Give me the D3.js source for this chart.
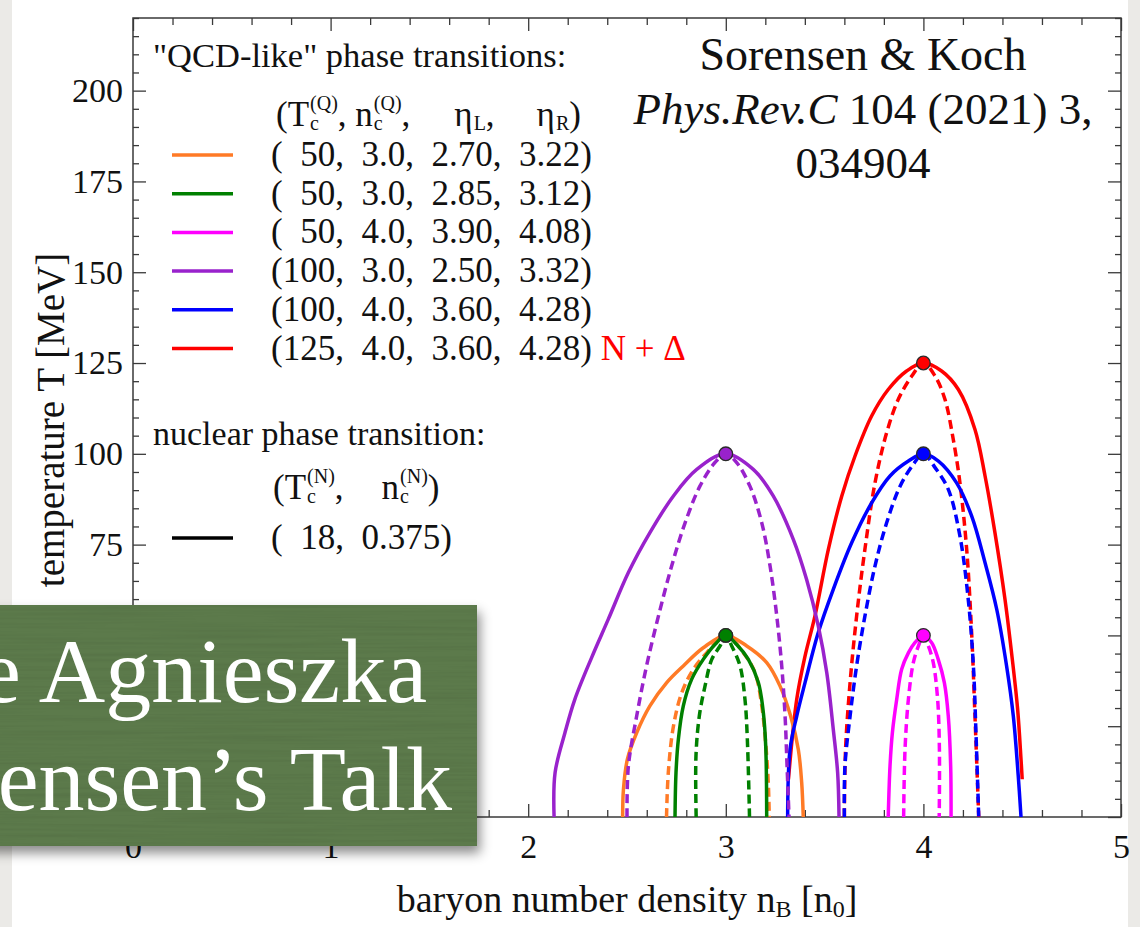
<!DOCTYPE html>
<html>
<head>
<meta charset="utf-8">
<script src="https://cdn.jsdelivr.net/npm/d3@7"></script>
<style>
  body { margin: 0; background: #fff; }
  svg { display: block; }
  text { font-family: "Liberation Serif", "Times New Roman", serif; }
</style>
</head>
<body>
<svg id="chart" width="1140" height="927"></svg>
<script>
// ---------------- data ----------------
// "QCD-like" transitions: critical point and T=0 spinodal points
const seriesTc   = [50, 50, 50, 100, 100, 125];
const seriesNc   = [3.0, 3.0, 4.0, 3.0, 4.0, 4.0];
const seriesEtaL = [2.70, 2.85, 3.90, 2.50, 3.60, 3.60];
const seriesEtaR = [3.22, 3.12, 4.08, 3.32, 4.28, 4.28];
const seriesNote = ["", "", "", "", "", "N + \u0394"];

// nuclear transition
const nuclearTc = 18;
const nuclearNc = 0.375;

// coexistence lines (solid), [n_B, T]; left branch rises to the critical point, right branch falls from it
const orangeCoexL = [[2.478,0],[2.482,7.6],[2.502,15.9],[2.549,23.2],[2.616,30.6],[2.701,37.0],[2.785,41.6],[2.886,46.6]];
const orangeCoexR = [[3.106,47.1],[3.207,42.5],[3.274,36.1],[3.328,27.8],[3.367,18.6],[3.384,9.5],[3.392,0]];
const greenCoexL  = [[2.743,0],[2.748,12.2],[2.760,21.4],[2.785,30.6],[2.827,37.9],[2.886,43.4],[2.945,47.5]];
const greenCoexR  = [[3.055,47.5],[3.114,43.4],[3.165,37.0],[3.190,28.7],[3.202,19.5],[3.207,0]];
const magentaCoexL = [[3.822,0],[3.831,14.0],[3.843,23.2],[3.865,32.4],[3.890,40.7],[3.924,45.2],[3.957,48.0]];
const magentaCoexR = [[4.042,48.0],[4.075,43.4],[4.106,37.0],[4.126,27.8],[4.138,14.0],[4.140,0]];
const purpleCoexL = [[2.131,0],[2.136,12.2],[2.186,23.2],[2.236,32.4],[2.321,43.9],[2.405,54.4],[2.507,67.3],[2.616,78.3],[2.735,88.4],[2.853,95.7]];
const purpleCoexR = [[3.139,95.7],[3.240,88.4],[3.342,76.4],[3.409,65.4],[3.468,52.6],[3.511,39.7],[3.544,24.1],[3.566,12.2],[3.573,0]];
const blueCoexL = [[3.313,0],[3.325,18.6],[3.359,27.8],[3.401,37.0],[3.468,50.8],[3.544,62.7],[3.637,75.5],[3.738,86.5],[3.831,93.9],[3.924,98.0]];
const blueCoexR = [[4.076,98.0],[4.168,92.0],[4.244,82.9],[4.312,70.0],[4.371,57.2],[4.421,41.6],[4.455,27.8],[4.480,11.3],[4.494,0]];
const redCoexL = [[3.317,10.4],[3.359,32.4],[3.401,44.3],[3.451,55.3],[3.519,73.7],[3.587,88.4],[3.654,99.4],[3.738,110.4],[3.822,117.7],[3.915,122.8]];
const redCoexR = [[4.092,122.8],[4.177,117.7],[4.261,106.7],[4.312,93.9],[4.362,78.3],[4.413,59.9],[4.450,43.4],[4.477,29.6],[4.494,15.9],[4.500,10.4]];

// spinodal lines (dashed), interior points; ends are (etaL,0), (nc,Tc), (etaR,0)
const orangeSpinL = [[2.709,12.2],[2.735,25.0],[2.777,34.2],[2.836,40.7],[2.903,45.2]];
const orangeSpinR = [[3.089,45.2],[3.148,39.7],[3.182,30.6],[3.203,19.5],[3.215,9.5]];
const greenSpinL  = [[2.849,16.8],[2.866,27.8],[2.895,36.1],[2.929,43.4],[2.971,47.1]];
const greenSpinR  = [[3.030,47.1],[3.072,41.6],[3.097,32.4],[3.109,21.4]];
const magentaSpinL = [[3.907,18.6],[3.924,32.4],[3.949,42.5],[3.975,47.1]];
const magentaSpinR = [[4.025,47.1],[4.050,42.5],[4.072,32.4],[4.081,18.6]];
const purpleSpinL = [[2.507,14.0],[2.549,27.8],[2.599,41.6],[2.659,55.3],[2.726,69.1],[2.794,81.0],[2.869,91.1],[2.945,97.6]];
const purpleSpinR = [[3.055,97.6],[3.122,91.1],[3.182,81.0],[3.224,69.1],[3.258,55.3],[3.283,41.6],[3.300,27.8],[3.310,14.0]];
const blueSpinL = [[3.603,14.0],[3.629,27.8],[3.662,41.6],[3.704,55.3],[3.755,69.1],[3.814,81.0],[3.882,91.1],[3.949,97.1]];
const blueSpinR = [[4.059,96.2],[4.126,90.2],[4.185,77.3],[4.227,59.9],[4.253,41.6],[4.266,23.2]];
const redSpinL = [[3.606,18.6],[3.629,37.0],[3.662,55.3],[3.704,73.7],[3.755,92.0],[3.814,105.8],[3.873,115.0],[3.941,121.4]];
const redSpinR = [[4.059,121.4],[4.109,115.0],[4.151,104.0],[4.185,92.0],[4.219,73.7],[4.244,50.8],[4.261,27.8]];

const coexLeft  = [orangeCoexL, greenCoexL, magentaCoexL, purpleCoexL, blueCoexL, redCoexL];
const coexRight = [orangeCoexR, greenCoexR, magentaCoexR, purpleCoexR, blueCoexR, redCoexR];
const spinLeft  = [orangeSpinL, greenSpinL, magentaSpinL, purpleSpinL, blueSpinL, redSpinL];
const spinRight = [orangeSpinR, greenSpinR, magentaSpinR, purpleSpinR, blueSpinR, redSpinR];

// axis ticks
const xMajorTicks = [0, 1, 2, 3, 4, 5];
const yMajorTicks = [0, 25, 50, 75, 100, 125, 150, 175, 200];
const yLabelledTicks = [75, 100, 125, 150, 175, 200];   // lower labels sit behind the talk banner

// ---------------- styles ----------------
const palette = ["#ff7a26", "#008000", "#ff00ff", "#9922cc", "#0000ff", "#ff0000"];
const drawOrder = [5, 0, 4, 3, 1, 2];
const serif = '"Liberation Serif", "Times New Roman", serif';

// ---------------- drawing ----------------
const svg = d3.select("#chart");
const W = 1140, H = 927;

const defs = svg.append("defs");
const shadow = defs.append("filter").attr("id", "shadow")
  .attr("x", "-10%").attr("y", "-10%").attr("width", "130%").attr("height", "140%");
shadow.append("feDropShadow").attr("dx", 3).attr("dy", 7).attr("stdDeviation", 6)
  .attr("flood-color", "#000").attr("flood-opacity", 0.45);

// faint paper grain for the banner
const grain = defs.append("filter").attr("id", "grain").attr("x", 0).attr("y", 0).attr("width", "100%").attr("height", "100%");
grain.append("feTurbulence").attr("type", "fractalNoise").attr("baseFrequency", "0.006 0.35")
  .attr("numOctaves", 2).attr("seed", 4).attr("result", "noise");
grain.append("feColorMatrix").attr("in", "noise").attr("type", "matrix")
  .attr("values", "0 0 0 0 0  0 0 0 0 0  0 0 0 0 0  0 0 0 -0.9 0.55");

// slide background
svg.append("rect").attr("width", W).attr("height", H).attr("fill", "#ebeae7");
svg.append("rect").attr("x", 12).attr("width", 1116).attr("height", H).attr("fill", "#ffffff");

const x = d3.scaleLinear().domain([0, 5]).range([133, 1121]);
const y = d3.scaleLinear().domain([0, 220]).range([817, 18]);

const axisColor = "#3a3a3a";
const xMinorTicks = d3.range(0, 5.0001, 0.2).filter(v => Math.abs(v - Math.round(v)) > 1e-6);
const yMinorTicks = d3.range(0, 220.001, 5).filter(v => v % 25 !== 0);

function styleAxis(sel) {
  sel.select(".domain").remove();
  sel.selectAll(".tick line").attr("stroke", axisColor).attr("stroke-width", 1.3);
  sel.selectAll(".tick text").attr("fill", "#111").style("font-family", serif).style("font-size", "34px");
}

const axes = svg.append("g");
// bottom
axes.append("g").attr("transform", `translate(0,${y(0)})`)
  .call(d3.axisBottom(x).tickValues(xMinorTicks).tickSize(-7).tickFormat("")).call(styleAxis);
axes.append("g").attr("transform", `translate(0,${y(0)})`)
  .call(d3.axisBottom(x).tickValues(xMajorTicks).tickSize(-13).tickPadding(17).tickFormat(d3.format("d"))).call(styleAxis);
// top
axes.append("g").attr("transform", `translate(0,${y(220)})`)
  .call(d3.axisTop(x).tickValues(xMinorTicks).tickSize(-7).tickFormat("")).call(styleAxis);
axes.append("g").attr("transform", `translate(0,${y(220)})`)
  .call(d3.axisTop(x).tickValues(xMajorTicks).tickSize(-13).tickFormat("")).call(styleAxis);
// left
axes.append("g").attr("transform", `translate(${x(0)},0)`)
  .call(d3.axisLeft(y).tickValues(yMinorTicks).tickSize(-6).tickFormat("")).call(styleAxis);
axes.append("g").attr("transform", `translate(${x(0)},0)`)
  .call(d3.axisLeft(y).tickValues(yMajorTicks).tickSize(-13).tickFormat("")).call(styleAxis);
axes.append("g").attr("transform", `translate(${x(0)},0)`)
  .call(d3.axisLeft(y).tickValues(yLabelledTicks).tickSize(0).tickPadding(10).tickFormat(d3.format("d"))).call(styleAxis);
// right
axes.append("g").attr("transform", `translate(${x(5)},0)`)
  .call(d3.axisRight(y).tickValues(yMinorTicks).tickSize(-6).tickFormat("")).call(styleAxis);
axes.append("g").attr("transform", `translate(${x(5)},0)`)
  .call(d3.axisRight(y).tickValues(yMajorTicks).tickSize(-13).tickFormat("")).call(styleAxis);

// frame
svg.append("rect")
  .attr("x", x(0)).attr("y", y(220)).attr("width", x(5) - x(0)).attr("height", y(0) - y(220))
  .attr("fill", "none").attr("stroke", axisColor).attr("stroke-width", 1.5);

// axis titles
const xt = svg.append("text").attr("x", 627).attr("y", 912).attr("text-anchor", "middle")
  .style("font-size", "38px").attr("fill", "#111");
xt.append("tspan").text("baryon number density n");
xt.append("tspan").attr("dy", 5).style("font-size", "24px").text("B");
xt.append("tspan").attr("dy", -5).text(" [n");
xt.append("tspan").attr("dy", 5).style("font-size", "24px").text("0");
xt.append("tspan").attr("dy", -5).text("]");

svg.append("text").attr("transform", "translate(64,420) rotate(-90)")
  .attr("text-anchor", "middle").style("font-size", "39px").attr("fill", "#111")
  .text("temperature T [MeV]");

// curves
const line = d3.line().x(d => x(d[0])).y(d => y(d[1])).curve(d3.curveCatmullRom.alpha(0.5));
const plot = svg.append("g");

drawOrder.forEach(i => {
  const top = [seriesNc[i], seriesTc[i]];
  const spin = [[seriesEtaL[i], 0], ...spinLeft[i], top, ...spinRight[i], [seriesEtaR[i], 0]];
  const coex = [...coexLeft[i], top, ...coexRight[i]];
  plot.append("path").attr("d", line(spin)).attr("fill", "none")
    .attr("stroke", palette[i]).attr("stroke-width", 3.5).attr("stroke-dasharray", "9,5");
  plot.append("path").attr("d", line(coex)).attr("fill", "none")
    .attr("stroke", palette[i]).attr("stroke-width", 3.5).attr("stroke-linejoin", "round");
});

// critical points
plot.append("circle").attr("cx", x(nuclearNc)).attr("cy", y(nuclearTc)).attr("r", 6.8)
  .attr("fill", "#000").attr("stroke", "#222").attr("stroke-width", 1.2);
drawOrder.forEach(i => {
  plot.append("circle").attr("cx", x(seriesNc[i])).attr("cy", y(seriesTc[i])).attr("r", 6.8)
    .attr("fill", palette[i]).attr("stroke", "#2a2a2a").attr("stroke-width", 1.3);
});

// ---------------- legend ----------------
const legend = svg.append("g").attr("fill", "#111");
const fs = 35, fsSmall = 20;

function richText(g, x0, y0, parts) {
  // parts: {t}, {sup, sub}, {sub}, {gap}
  let cx = x0;
  parts.forEach(p => {
    if (p.gap !== undefined) { cx += p.gap; return; }
    if (p.t !== undefined) {
      const t = g.append("text").attr("x", cx).attr("y", y0).style("font-size", fs + "px")
        .style("white-space", "pre").text(p.t);
      cx += t.node().getComputedTextLength();
      return;
    }
    let w = 0;
    if (p.sup !== undefined) {
      const s = g.append("text").attr("x", cx + 1).attr("y", y0 - 16).style("font-size", fsSmall + "px").text(p.sup);
      w = Math.max(w, s.node().getComputedTextLength() + 1);
    }
    if (p.sub !== undefined) {
      const s = g.append("text").attr("x", cx + 1).attr("y", y0 + 4).style("font-size", fsSmall + "px").text(p.sub);
      w = Math.max(w, s.node().getComputedTextLength() + 1);
    }
    cx += w;
  });
  return cx;
}

legend.append("text").attr("x", 153).attr("y", 67).style("font-size", "34.5px")
  .text("\"QCD-like\" phase transitions:");

richText(legend, 276, 126, [
  {t: "(T"}, {sup: "(Q)", sub: "c"}, {t: ", n"}, {sup: "(Q)", sub: "c"}, {t: ","},
  {gap: 44}, {t: "\u03B7"}, {sub: "L"}, {t: ","},
  {gap: 42}, {t: "\u03B7"}, {sub: "R"}, {t: ")"}
]);

const rowY0 = 155, rowStep = 38.7;
seriesTc.forEach((tc, i) => {
  const ly = rowY0 + i * rowStep;
  legend.append("line").attr("x1", 172).attr("x2", 233).attr("y1", ly).attr("y2", ly)
    .attr("stroke", palette[i]).attr("stroke-width", 3.5);
  const label = `(${tc < 100 ? "  " + tc : tc},  ${seriesNc[i].toFixed(1)},  ${seriesEtaL[i].toFixed(2)},  ${seriesEtaR[i].toFixed(2)})`;
  const t = legend.append("text").attr("x", 271).attr("y", ly + 11).style("font-size", fs + "px")
    .style("white-space", "pre").text(label);
  if (seriesNote[i]) {
    const w = t.node().getComputedTextLength();
    legend.append("text").attr("x", 271 + w + 9).attr("y", ly + 11).style("font-size", fs + "px")
      .attr("fill", palette[i]).text(seriesNote[i]);
  }
});

legend.append("text").attr("x", 153).attr("y", 445).style("font-size", "34px")
  .text("nuclear phase transition:");

richText(legend, 273, 499, [
  {t: "(T"}, {sup: "(N)", sub: "c"}, {t: ","}, {gap: 38}, {t: "n"}, {sup: "(N)", sub: "c"}, {t: ")"}
]);

legend.append("line").attr("x1", 172).attr("x2", 233).attr("y1", 538).attr("y2", 538)
  .attr("stroke", "#000").attr("stroke-width", 3.5);
legend.append("text").attr("x", 271).attr("y", 549).style("font-size", fs + "px")
  .style("white-space", "pre").text(`(  ${nuclearTc},  ${nuclearNc})`);

// reference note
const ref = svg.append("g").attr("fill", "#111").attr("text-anchor", "middle");
ref.append("text").attr("x", 863).attr("y", 70).style("font-size", "46px").text("Sorensen & Koch");
const r2 = ref.append("text").attr("x", 863).attr("y", 124).style("font-size", "45px");
r2.append("tspan").style("font-style", "italic").text("Phys.Rev.C");
r2.append("tspan").text(" 104 (2021) 3,");
ref.append("text").attr("x", 863).attr("y", 178).style("font-size", "45px").text("034904");

// ---------------- talk banner ----------------
const banner = svg.append("g");
banner.append("rect").attr("x", -20).attr("y", 605).attr("width", 497).attr("height", 241)
  .attr("fill", "#5b7a4b").attr("filter", "url(#shadow)");
banner.append("rect").attr("x", 0).attr("y", 605).attr("width", 477).attr("height", 241)
  .attr("fill", "#000").attr("filter", "url(#grain)").attr("opacity", 0.12);
banner.append("text").attr("x", 427).attr("y", 702).attr("text-anchor", "end")
  .attr("fill", "#fff").style("font-size", "92px").text("See Agnieszka");
banner.append("text").attr("x", 452).attr("y", 810).attr("text-anchor", "end")
  .attr("fill", "#fff").style("font-size", "92px").text("Sorensen\u2019s Talk");
</script>
</body>
</html>
